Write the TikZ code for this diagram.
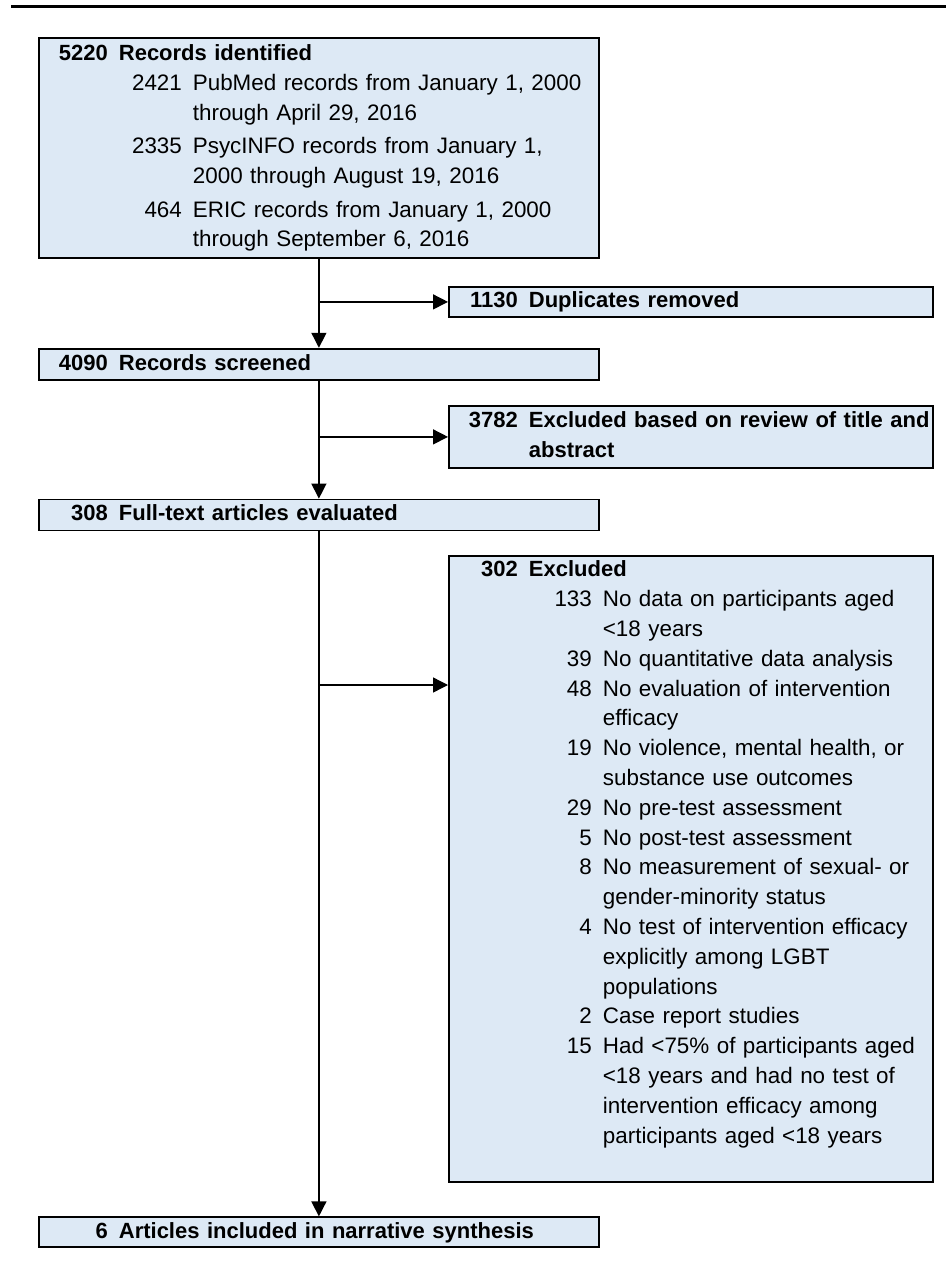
\documentclass[tikz,border=0pt]{standalone}
\usepackage{fontspec}
\setmainfont{Liberation Sans}
\usetikzlibrary{arrows.meta,positioning}
\definecolor{boxblue}{RGB}{221,233,245}
\newcommand{\hdfont}{\bfseries\fontsize{11pt}{14.9pt}\selectfont}
\newcommand{\hdrow}[2]{\strut\mbox{\makebox[24.5pt][r]{\hdfont #1}\hspace*{5.5pt}{\hdfont #2}}}
\newcommand{\hdcont}[1]{\strut\mbox{\hspace*{30pt}{\hdfont #1}}}
\newcommand{\itemrow}[2]{\strut\mbox{\makebox[61.5pt][r]{#1}\hspace*{5.5pt}#2}}
\newcommand{\itemcont}[1]{\strut\mbox{\hspace*{67pt}#1}}
\tikzset{
  box/.style={draw=black, line width=0.9pt, fill=boxblue, inner xsep=10pt, inner ysep=0pt, align=left, font=\fontsize{11.2pt}{14.9pt}\selectfont},
  leftbox/.style={box, text width=260pt},
  rightbox/.style={box, text width=222pt},
  arr/.style={-{Triangle[length=7.5pt,width=7.5pt]}, line width=0.7pt}}

\begin{document}
\begin{tikzpicture}
  \useasboundingbox (0,0) rectangle (473pt,-631pt);
  \draw[line width=1.5pt] (5.5pt,-3.5pt) -- (473pt,-3.5pt);
  \node[leftbox, minimum height=110pt, anchor=north west] (ident) at (19pt,-18.5pt) {%
    \hdrow{5220}{Records identified}\\
    \itemrow{2421}{PubMed records from January 1, 2000}\\
    \itemcont{through April 29, 2016}\\[1.8pt]
    \itemrow{2335}{PsycINFO records from January 1,}\\
    \itemcont{2000 through August 19, 2016}\\[1.8pt]
    \itemrow{464}{ERIC records from January 1, 2000}\\
    \itemcont{through September 6, 2016}};
  \node[leftbox, minimum height=15.5pt, below=44.5pt of ident] (screen) {\hdrow{4090}{Records screened}};
  \node[leftbox, minimum height=15.5pt, below=59pt of screen] (fulltext) {\hdrow{308}{Full-text articles evaluated}};
  \node[leftbox, minimum height=15pt, below=342.5pt of fulltext] (final) {\hdrow{6}{Articles included in narrative synthesis}};
  \node[rightbox, minimum height=15pt, anchor=north west] (dup) at (224pt,-143pt) {\hdrow{1130}{Duplicates removed}};
  \node[rightbox, minimum height=31pt, anchor=north west] (excl1) at (224pt,-202.5pt) {%
    \hdrow{3782}{Excluded based on review of title and}\\
    \hdcont{abstract}};
  \node[rightbox, minimum height=313pt, anchor=north west] (excl2) at (224pt,-277.5pt) {%
    \hdrow{302}{Excluded}\\
    \itemrow{133}{No data on participants aged}\\
    \itemcont{<18 years}\\
    \itemrow{39}{No quantitative data analysis}\\
    \itemrow{48}{No evaluation of intervention}\\
    \itemcont{efficacy}\\
    \itemrow{19}{No violence, mental health, or}\\
    \itemcont{substance use outcomes}\\
    \itemrow{29}{No pre-test assessment}\\
    \itemrow{5}{No post-test assessment}\\
    \itemrow{8}{No measurement of sexual- or}\\
    \itemcont{gender-minority status}\\
    \itemrow{4}{No test of intervention efficacy}\\
    \itemcont{explicitly among LGBT}\\
    \itemcont{populations}\\
    \itemrow{2}{Case report studies}\\
    \itemrow{15}{Had <75\% of participants aged}\\
    \itemcont{<18 years and had no test of}\\
    \itemcont{intervention efficacy among}\\
    \itemcont{participants aged <18 years}\\
    \strut};
  \coordinate (hit) at ([yshift=-65pt]excl2.north west);
  \draw[arr] (ident) -- (screen);
  \draw[arr] (screen) -- (fulltext);
  \draw[arr] (fulltext) -- (final);
  \draw[arr] (ident.south |- dup.west) -- (dup.west);
  \draw[arr] (screen.south |- excl1.west) -- (excl1.west);
  \draw[arr] (fulltext.south |- hit) -- (hit);
\end{tikzpicture}
\end{document}
